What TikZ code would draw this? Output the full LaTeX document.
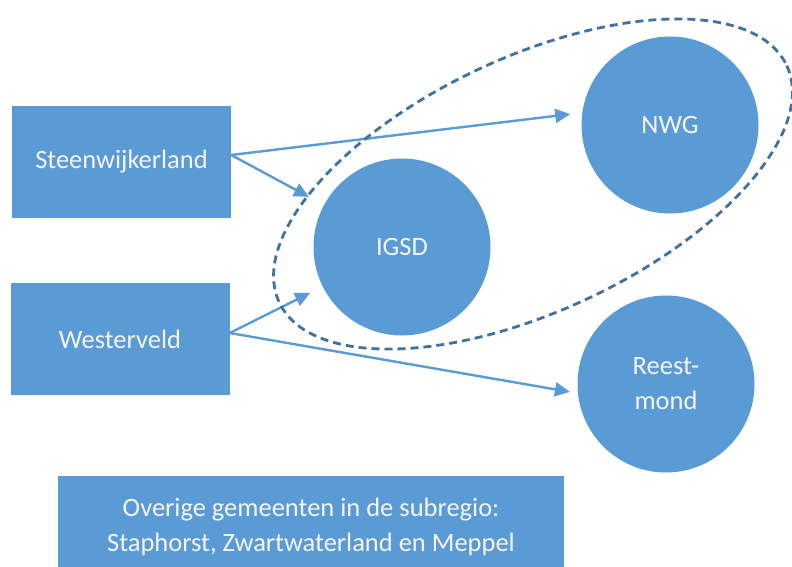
\documentclass[tikz,border=0pt]{standalone}
\usepackage{fontspec}
\setmainfont{Carlito}
\usetikzlibrary{arrows.meta}
\definecolor{vakblauw}{HTML}{5B9BD5}
\definecolor{randblauw}{HTML}{41719C}
\definecolor{tekstwit}{HTML}{F4F4F4}
\tikzset{
  gemeente/.style={rectangle,fill=vakblauw,text=tekstwit,minimum width=219pt,minimum height=112pt,inner sep=0pt},
  org/.style={circle,fill=vakblauw,text=tekstwit,minimum size=177pt,inner sep=0pt,align=center},
  pijl/.style={vakblauw,line width=2.4pt,-{Triangle[length=15pt,width=14pt]}}
}
\begin{document}
\begin{tikzpicture}[x=1pt,y=-1pt,font=\fontsize{26.5}{35}\selectfont]
            \useasboundingbox(0,0)rectangle(792,566);
            \node[gemeente](steen)at(121.5,162){Steenwijkerland};
            \node[gemeente](wester)at(120,339){Westerveld};
            \node[org](igsd)at(402,247){IGSD};
            \node[org](nwg)at(670,125){NWG};
            \node[org](reest)at(666,384){Reest-\\mond};
            \node[gemeente,minimum width=506pt,minimum height=102pt,align=center](overig)at(311,527){Overige gemeenten in de subregio:\\Staphorst, Zwartwaterland en Meppel};
            \coordinate(sout)at([yshift=7pt]steen.east);
            \coordinate(wout)at([yshift=6pt]wester.east);
            \draw[pijl,shorten >=12pt](sout)--(nwg.172);
            \draw[pijl,shorten >=17pt](sout)--(igsd);
            \draw[pijl,shorten >=14pt](wout)--(igsd);
            \draw[pijl,shorten >=8pt](wout)--(reest.186);
            \draw[randblauw,line width=2.8pt,dash pattern=on 8pt off 5pt,rotate around={25:(533,184)}](533,184)ellipse[x radius=280,y radius=127];
        \end{tikzpicture}
\end{document}
